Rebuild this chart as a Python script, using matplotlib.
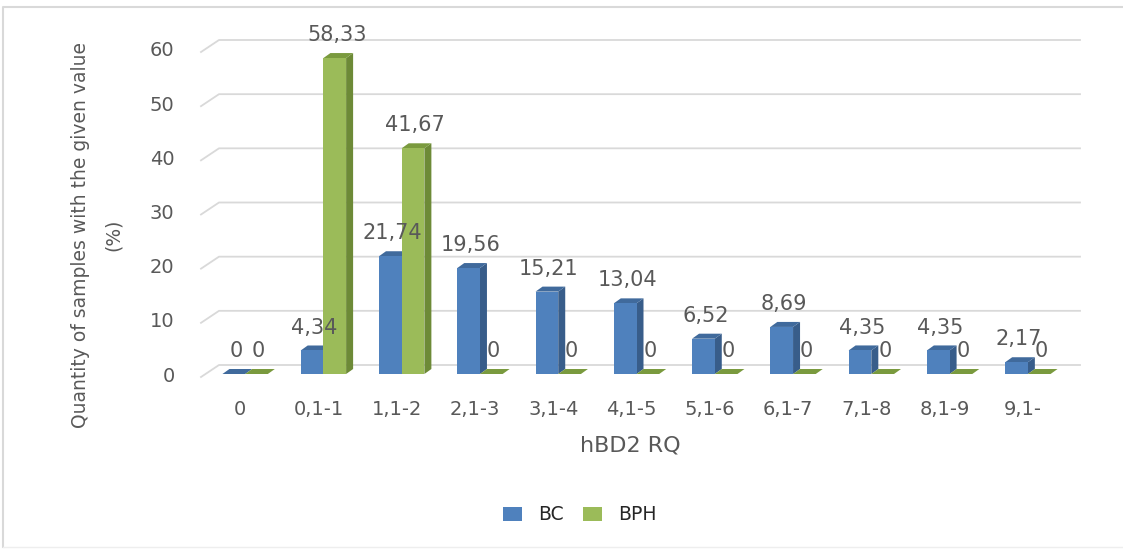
import matplotlib
matplotlib.use("Agg")
import numpy as np
import matplotlib.pyplot as plt
from matplotlib.lines import Line2D
from matplotlib.patches import Polygon, Patch
from matplotlib.transforms import IdentityTransform

# hBD2 RQ distribution, % of samples per group
categories = ["0", "0,1-1", "1,1-2", "2,1-3", "3,1-4", "4,1-5",
              "5,1-6", "6,1-7", "7,1-8", "8,1-9", "9,1-"]
bc = [0, 4.34, 21.74, 19.56, 15.21, 13.04, 6.52, 8.69, 4.35, 4.35, 2.17]
bph = [0, 58.33, 41.67, 0, 0, 0, 0, 0, 0, 0, 0]
yticks = [0, 10, 20, 30, 40, 50, 60]

text_col = "#595959"
grid_col = "#d9d9d9"
# (front, side, top) for each series
bc_cols = ("#4f81bd", "#385d8a", "#406a9c")
bph_cols = ("#9bbb59", "#6d8a37", "#7a9a3e")

W, H, DPI = 1123, 549, 100
fig = plt.figure(figsize=(W / DPI, H / DPI), dpi=DPI)
ax = fig.add_axes([201 / W, (H - 374) / H, 861 / W, 325 / H])
ax.set_xlim(-0.5, len(categories) - 0.5)
ax.set_ylim(0, 60)
for s in ax.spines.values():
    s.set_visible(False)
ax.patch.set_alpha(0)

ax.set_xticks(range(len(categories)))
ax.set_xticklabels(categories)
ax.set_yticks(yticks)
ax.set_yticklabels([str(t) for t in yticks])
ax.tick_params(axis="x", length=0, pad=19, labelsize=14, labelcolor=text_col)
ax.tick_params(axis="y", length=0, pad=19, labelsize=14, labelcolor=text_col)


def px(x, y, dx=0.0, dy=0.0):
    p = ax.transData.transform((x, y))
    return (p[0] + dx, p[1] + dy)


def poly(points, color, z):
    ax.add_patch(Polygon(points, closed=True, facecolor=color, edgecolor="none",
                         transform=IdentityTransform(), clip_on=False, zorder=z))


def fmt(v):
    if v == 0:
        return "0"
    return f"{v:.2f}".replace(".", ",")


# back wall gridlines with a short floor-depth segment on the left
back_dx, back_dy = 18, 9
x0, x1 = -0.5, len(categories) - 0.5
for v in yticks:
    a = px(x0, v, 0, -3)
    b = px(x0, v, back_dx, back_dy)
    c = px(x1, v, back_dx, back_dy)
    ax.add_line(Line2D([a[0], b[0], c[0]], [a[1], b[1], c[1]], color=grid_col,
                       lw=1.3, transform=IdentityTransform(), clip_on=False, zorder=1))

# pseudo-3D bars
bw = 0.29
shift = 5       # pixels
depth = (7, 5)  # pixels right, up
for i in range(len(categories)):
    for off, vals, cols in ((-bw / 2, bc, bc_cols), (bw / 2, bph, bph_cols)):
        v = vals[i]
        xl = i + off - bw / 2
        xr = i + off + bw / 2
        dx, dy = depth
        # side face
        poly([px(xr, 0, shift), px(xr, v, shift), px(xr, v, shift + dx, dy),
              px(xr, 0, shift + dx, dy)], cols[1], 3)
        # top face
        poly([px(xl, v, shift), px(xr, v, shift), px(xr, v, shift + dx, dy),
              px(xl, v, shift + dx, dy)], cols[2], 3)
        # front face
        if v > 0:
            poly([px(xl, 0, shift), px(xr, 0, shift), px(xr, v, shift),
                  px(xl, v, shift)], cols[0], 3)
        ax.annotate(fmt(v), (i + off, v), xytext=(shift * 0.72 + 1.5, 16.5),
                    textcoords="offset points", ha="center", va="center",
                    fontsize=15, color=text_col, zorder=5)

fig.text(630 / W, 1 - 445 / H, "hBD2 RQ", ha="center", va="center",
         fontsize=16, color=text_col)

fig.text(97 / W, 1 - 235 / H, "Quantity of samples with the given value\n(%)",
         rotation=90, ha="center", va="center", multialignment="center",
         fontsize=13.5, color=text_col, linespacing=1.9)

handles = [Patch(facecolor=bc_cols[0], label="BC"), Patch(facecolor=bph_cols[0], label="BPH")]
fig.legend(handles=handles, loc="center", bbox_to_anchor=(580 / W, 1 - 515 / H), ncol=2,
           frameon=False, fontsize=13.5, handlelength=1.0, handleheight=0.8,
           handletextpad=0.9, columnspacing=1.0, labelcolor="#262626")

# outer chart frame (top, left and bottom edges)
fig.add_artist(Line2D([3, 3, W], [H - 547, H - 7, H - 7], color=grid_col, lw=1.5,
                      transform=IdentityTransform()))
fig.add_artist(Line2D([3, W], [H - 547, H - 547], color="#eeeeee", lw=1.0,
                      transform=IdentityTransform()))

fig.savefig("out.png", dpi=DPI)
